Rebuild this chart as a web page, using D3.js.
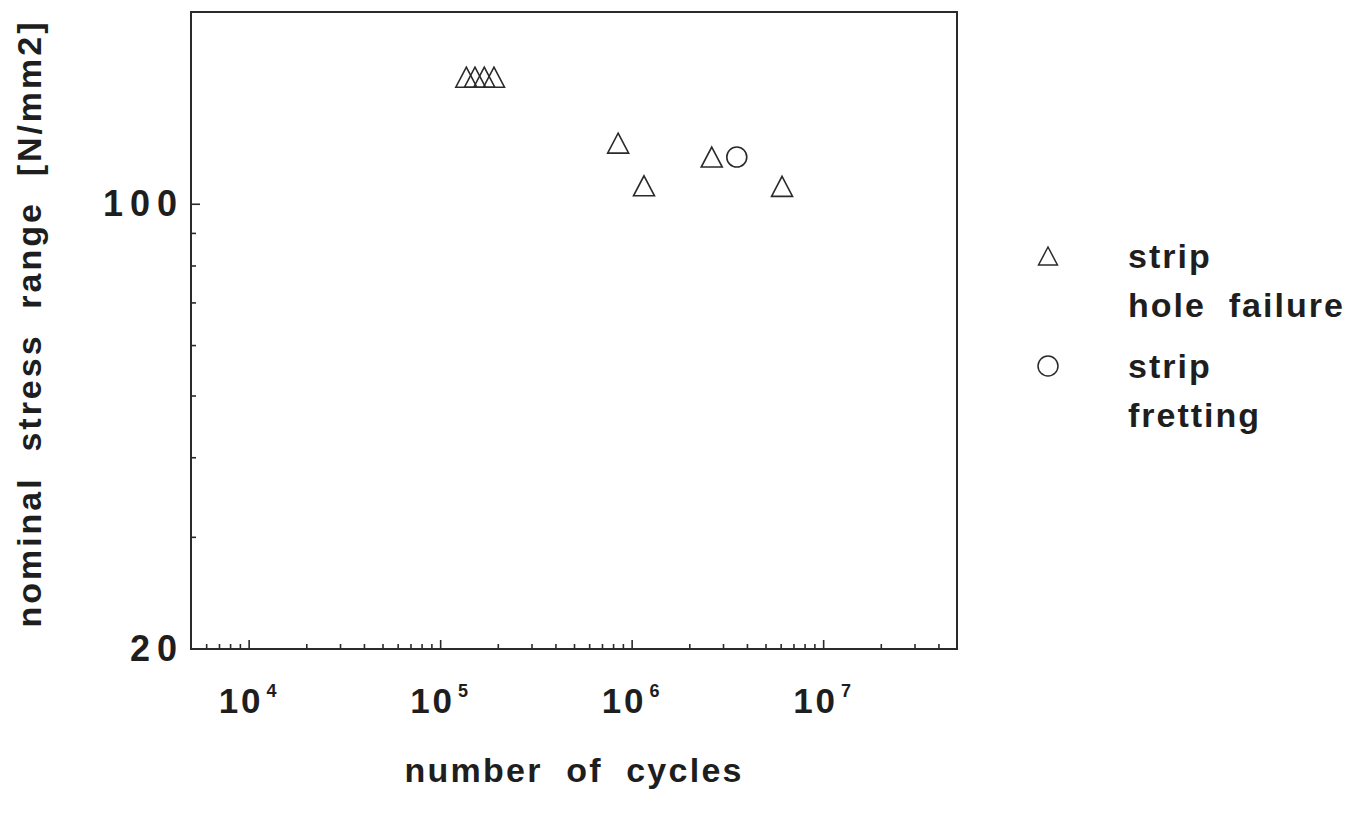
<!DOCTYPE html>
<html>
<head>
<meta charset="utf-8">
<script src="https://cdn.jsdelivr.net/npm/d3@7"></script>
<style>
  html, body { margin: 0; padding: 0; background: #ffffff; }
  svg { display: block; }
  text { font-family: "Liberation Sans", Arial, sans-serif; font-weight: bold; fill: #1e1e1e; white-space: pre; }
</style>
</head>
<body>
<svg id="chart" width="1351" height="819"></svg>
<script>
// ---- data ----
const triangleCycles = [1.37e5, 1.52e5, 1.70e5, 1.91e5, 8.5e5, 1.16e6, 2.62e6, 6.1e6];
const triangleStress = [158, 158, 158, 158, 124.5, 106.7, 118.4, 106.5];
const circleCycles = [3.54e6];
const circleStress = [118.4];
const xDomain = [5e3, 5e7];
const yDomain = [20, 200];
const xMajorExponents = [4, 5, 6, 7];
const yTickLabels = [20, 100];
const yMinorTicks = [30, 40, 50, 60, 70, 80, 90];
const legendLabels = [["strip", "hole  failure"], ["strip", "fretting"]];
const xTitle = "number  of  cycles";
const yTitle = "nominal  stress  range  [N/mm2]";

// ---- layout ----
const plotLeft = 191, plotRight = 957, plotTop = 12, plotBottom = 649;
const ink = "#2a2a2a";

const svg = d3.select("#chart");
const x = d3.scaleLog().domain(xDomain).range([plotLeft, plotRight]);
const y = d3.scaleLog().domain(yDomain).range([plotBottom, plotTop]);

const xMinor = [];
for (let k = 3; k <= 7; k++) for (let m = 2; m <= 9; m++) {
  const v = m * Math.pow(10, k);
  if (v > xDomain[0] && v < xDomain[1]) xMinor.push(v);
}
const xMajor = xMajorExponents.map(e => Math.pow(10, e));

function styleAxis(g) {
  g.select(".domain").remove();
  g.selectAll(".tick line").attr("stroke", ink).attr("stroke-width", 1.6);
  g.selectAll(".tick text").remove();
}

svg.append("g").attr("transform", `translate(0,${plotBottom})`)
  .call(d3.axisBottom(x).tickValues(xMinor).tickSize(-5).tickFormat(""))
  .call(styleAxis);
svg.append("g").attr("transform", `translate(0,${plotBottom})`)
  .call(d3.axisBottom(x).tickValues(xMajor).tickSize(-9).tickFormat(""))
  .call(styleAxis);
svg.append("g").attr("transform", `translate(${plotLeft},0)`)
  .call(d3.axisLeft(y).tickValues(yMinorTicks).tickSize(-5).tickFormat(""))
  .call(styleAxis);
svg.append("g").attr("transform", `translate(${plotLeft},0)`)
  .call(d3.axisLeft(y).tickValues([100]).tickSize(-9).tickFormat(""))
  .call(styleAxis);

svg.append("rect").attr("x", plotLeft).attr("y", plotTop)
  .attr("width", plotRight - plotLeft).attr("height", plotBottom - plotTop)
  .attr("fill", "none").attr("stroke", ink).attr("stroke-width", 2);

xMajorExponents.forEach(e => {
  const t = svg.append("text").attr("x", x(Math.pow(10, e)) - 30).attr("y", 713)
    .style("font-size", "35px").style("letter-spacing", "3px");
  t.append("tspan").text("10");
  t.append("tspan").attr("dx", 3).attr("dy", -16).style("font-size", "18px").style("letter-spacing", "0px").text(String(e));
});

yTickLabels.forEach(v => {
  svg.append("text").attr("x", 184).attr("y", y(v) + 12)
    .attr("text-anchor", "end")
    .style("font-size", "36px").style("letter-spacing", "7px")
    .text(String(v));
});

svg.append("text").attr("x", 573).attr("y", 782)
  .attr("text-anchor", "middle").style("font-size", "34px")
  .attr("textLength", 337).attr("lengthAdjust", "spacing")
  .text(xTitle);
svg.append("text").attr("transform", "translate(41,325) rotate(-90)")
  .attr("text-anchor", "middle").style("font-size", "34px")
  .attr("textLength", 605).attr("lengthAdjust", "spacing")
  .text(yTitle);

const triPath = s => `M0,${-s} L${s * 1.05},${s} L${-s * 1.05},${s} Z`;
svg.append("g").selectAll("path").data(triangleCycles.map((c, i) => [c, triangleStress[i]]))
  .join("path")
  .attr("transform", d => `translate(${x(d[0])},${y(d[1])})`)
  .attr("d", triPath(10))
  .attr("fill", "none").attr("stroke", ink).attr("stroke-width", 1.6);
svg.append("g").selectAll("circle").data(circleCycles.map((c, i) => [c, circleStress[i]]))
  .join("circle")
  .attr("cx", d => x(d[0])).attr("cy", d => y(d[1])).attr("r", 10)
  .attr("fill", "none").attr("stroke", ink).attr("stroke-width", 1.6);

const legendY = [256, 366];
svg.append("path").attr("transform", `translate(1048,${legendY[0]})`)
  .attr("d", triPath(9)).attr("fill", "none").attr("stroke", ink).attr("stroke-width", 1.5);
svg.append("circle").attr("cx", 1048).attr("cy", legendY[1]).attr("r", 10)
  .attr("fill", "none").attr("stroke", ink).attr("stroke-width", 1.5);
legendLabels.forEach((lines, i) => {
  lines.forEach((ln, j) => {
    svg.append("text").attr("x", 1128).attr("y", legendY[i] + 12 + j * 49)
      .style("font-size", "34px").style("letter-spacing", "2px")
      .text(ln);
  });
});
</script>
</body>
</html>
